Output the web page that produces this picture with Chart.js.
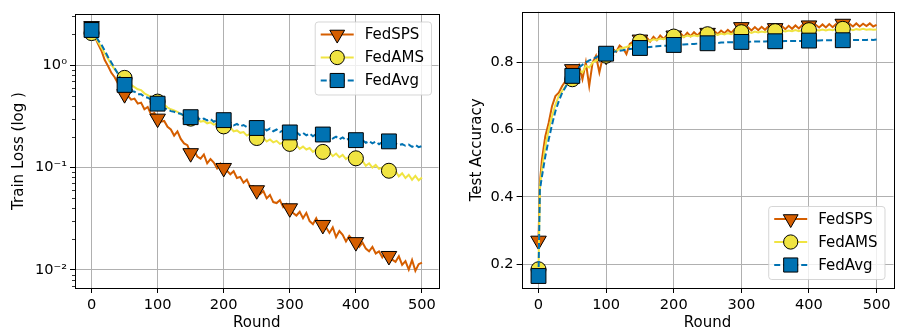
<!DOCTYPE html>
<html>
<head>
<meta charset="utf-8">
<script src="https://cdn.jsdelivr.net/npm/chart.js@4.4.1/dist/chart.umd.min.js"></script>
<style>
  body { margin: 0; background: #fff; width: 902px; height: 333px; overflow: hidden; position: relative; }
  #lossChart { position: absolute; left: 0; top: 0; }
  #accChart { position: absolute; left: 450px; top: 0; }
</style>
</head>
<body>
<canvas id="lossChart" width="450" height="333"></canvas>
<canvas id="accChart" width="455" height="333"></canvas>
<script>
const rounds = [0, 2, 5, 10, 15, 20, 25, 30, 35, 40, 45, 50, 55, 60, 65, 70, 75, 80, 85, 90, 95, 100,
  105, 110, 115, 120, 125, 130, 135, 140, 145, 150, 155, 160, 165, 170, 175, 180, 185, 190, 195, 200,
  205, 210, 215, 220, 225, 230, 235, 240, 245, 250, 255, 260, 265, 270, 275, 280, 285, 290, 295, 300,
  305, 310, 315, 320, 325, 330, 335, 340, 345, 350, 355, 360, 365, 370, 375, 380, 385, 390, 395, 400,
  405, 410, 415, 420, 425, 430, 435, 440, 445, 450, 455, 460, 465, 470, 475, 480, 485, 490, 495, 500];

// train loss
const spsLoss = [2.40, 2.10, 1.88, 1.60, 1.38, 1.12, 0.98, 0.84, 0.76, 0.66, 0.60, 0.52, 0.50, 0.46, 0.47, 0.42, 0.43, 0.37, 0.39, 0.33, 0.34, 0.30,
  0.28, 0.285, 0.25, 0.235, 0.205, 0.225, 0.19, 0.172, 0.165, 0.138, 0.148, 0.128, 0.122, 0.134, 0.11, 0.121, 0.112, 0.098, 0.109, 0.099,
  0.093, 0.086, 0.092, 0.079, 0.081, 0.071, 0.076, 0.065, 0.066, 0.060, 0.055, 0.059, 0.05, 0.054, 0.046, 0.045, 0.048, 0.041, 0.044, 0.040,
  0.036, 0.034, 0.037, 0.032, 0.036, 0.03, 0.028, 0.032, 0.027, 0.0275, 0.026, 0.023, 0.026, 0.021, 0.024, 0.022, 0.019, 0.0215, 0.0198, 0.0187,
  0.0168, 0.0185, 0.0162, 0.0152, 0.0168, 0.0145, 0.0152, 0.0133, 0.0148, 0.0137, 0.0126, 0.012, 0.0136, 0.0112, 0.0122, 0.0101, 0.0125, 0.0098, 0.0114, 0.0118];
const amsLoss = [2.05, 1.98, 1.88, 1.68, 1.48, 1.30, 1.15, 1.01, 0.91, 0.84, 0.79, 0.75, 0.69, 0.64, 0.61, 0.58, 0.57, 0.53, 0.51, 0.49, 0.47, 0.44,
  0.42, 0.41, 0.385, 0.37, 0.36, 0.35, 0.33, 0.325, 0.31, 0.30, 0.295, 0.3, 0.28, 0.285, 0.27, 0.276, 0.262, 0.268, 0.258, 0.252,
  0.24, 0.247, 0.225, 0.23, 0.218, 0.222, 0.205, 0.213, 0.2, 0.194, 0.19, 0.195, 0.18, 0.188, 0.176, 0.182, 0.17, 0.176, 0.165, 0.17,
  0.16, 0.166, 0.152, 0.16, 0.15, 0.155, 0.142, 0.15, 0.139, 0.142, 0.134, 0.141, 0.129, 0.137, 0.126, 0.133, 0.121, 0.128, 0.118, 0.123,
  0.11, 0.116, 0.104, 0.11, 0.1, 0.106, 0.097, 0.1, 0.092, 0.093, 0.087, 0.092, 0.082, 0.088, 0.079, 0.085, 0.076, 0.083, 0.075, 0.080];
const avgLoss = [2.20, 2.12, 2.02, 1.75, 1.58, 1.38, 1.20, 1.06, 0.93, 0.82, 0.72, 0.64, 0.60, 0.56, 0.55, 0.52, 0.52, 0.49, 0.48, 0.46, 0.44, 0.42,
  0.40, 0.38, 0.37, 0.355, 0.35, 0.34, 0.335, 0.32, 0.315, 0.31, 0.302, 0.31, 0.292, 0.3, 0.288, 0.297, 0.28, 0.292, 0.282, 0.29,
  0.27, 0.276, 0.258, 0.266, 0.252, 0.26, 0.248, 0.256, 0.242, 0.243, 0.237, 0.246, 0.23, 0.24, 0.226, 0.235, 0.222, 0.23, 0.219, 0.22,
  0.212, 0.222, 0.208, 0.218, 0.206, 0.215, 0.202, 0.212, 0.201, 0.21, 0.197, 0.206, 0.192, 0.2, 0.189, 0.197, 0.185, 0.193, 0.182, 0.185,
  0.177, 0.185, 0.174, 0.181, 0.172, 0.179, 0.169, 0.177, 0.167, 0.18, 0.169, 0.171, 0.166, 0.169, 0.163, 0.167, 0.159, 0.166, 0.158, 0.162];

// test accuracy
const spsAcc = [0.27, 0.44, 0.51, 0.58, 0.62, 0.67, 0.70, 0.71, 0.73, 0.745, 0.77, 0.78, 0.76, 0.79, 0.75, 0.80, 0.73, 0.80, 0.82, 0.77, 0.815, 0.82,
  0.835, 0.84, 0.832, 0.85, 0.842, 0.825, 0.855, 0.862, 0.848, 0.868, 0.858, 0.874, 0.862, 0.876, 0.866, 0.88, 0.87, 0.881, 0.872, 0.88,
  0.874, 0.887, 0.876, 0.888, 0.878, 0.89, 0.88, 0.891, 0.882, 0.888, 0.884, 0.894, 0.884, 0.895, 0.887, 0.897, 0.888, 0.899, 0.89, 0.905,
  0.893, 0.904, 0.895, 0.905, 0.896, 0.906, 0.897, 0.907, 0.898, 0.902, 0.898, 0.908, 0.899, 0.909, 0.9, 0.91, 0.901, 0.911, 0.902, 0.91,
  0.903, 0.912, 0.904, 0.913, 0.904, 0.914, 0.905, 0.914, 0.906, 0.915, 0.906, 0.915, 0.907, 0.916, 0.907, 0.915, 0.908, 0.916, 0.907, 0.912];
const amsAcc = [0.185, 0.43, 0.48, 0.55, 0.60, 0.64, 0.675, 0.70, 0.715, 0.73, 0.742, 0.75, 0.76, 0.775, 0.77, 0.79, 0.785, 0.80, 0.805, 0.81, 0.815, 0.82,
  0.825, 0.832, 0.835, 0.84, 0.843, 0.846, 0.85, 0.853, 0.856, 0.862, 0.86, 0.866, 0.864, 0.869, 0.867, 0.871, 0.869, 0.874, 0.872, 0.877,
  0.874, 0.878, 0.876, 0.88, 0.877, 0.881, 0.878, 0.882, 0.879, 0.884, 0.881, 0.885, 0.882, 0.886, 0.883, 0.887, 0.884, 0.888, 0.886, 0.89,
  0.887, 0.891, 0.888, 0.892, 0.889, 0.892, 0.89, 0.893, 0.891, 0.893, 0.891, 0.894, 0.892, 0.895, 0.893, 0.896, 0.893, 0.896, 0.894, 0.896,
  0.894, 0.897, 0.895, 0.898, 0.895, 0.898, 0.896, 0.899, 0.897, 0.9, 0.897, 0.899, 0.896, 0.899, 0.897, 0.9, 0.897, 0.899, 0.897, 0.898];
const avgAcc = [0.165, 0.42, 0.46, 0.52, 0.57, 0.615, 0.655, 0.685, 0.71, 0.727, 0.745, 0.76, 0.772, 0.785, 0.793, 0.80, 0.806, 0.81, 0.815, 0.82, 0.823, 0.826,
  0.828, 0.831, 0.833, 0.835, 0.836, 0.838, 0.84, 0.841, 0.842, 0.843, 0.844, 0.845, 0.846, 0.847, 0.848, 0.849, 0.85, 0.85, 0.851, 0.852,
  0.852, 0.853, 0.853, 0.854, 0.855, 0.855, 0.856, 0.856, 0.857, 0.857, 0.858, 0.858, 0.858, 0.859, 0.859, 0.86, 0.86, 0.86, 0.861, 0.861,
  0.861, 0.861, 0.862, 0.862, 0.862, 0.862, 0.862, 0.863, 0.863, 0.863, 0.863, 0.863, 0.864, 0.864, 0.864, 0.864, 0.864, 0.864, 0.865, 0.865,
  0.865, 0.865, 0.865, 0.866, 0.866, 0.866, 0.866, 0.866, 0.866, 0.866, 0.867, 0.867, 0.867, 0.867, 0.867, 0.867, 0.867, 0.868, 0.867, 0.868];

const roundTicks = [0, 100, 200, 300, 400, 500];
const lossTicks = [0.01, 0.1, 1];
const lossTickLabels = ['10⁻²', '10⁻¹', '10⁰'];
const accTicks = [0.2, 0.4, 0.6, 0.8];
const methods = ['FedSPS', 'FedAMS', 'FedAvg'];

const FONT = 'DejaVu Sans';
const colors = ['#D55E00', '#F0E442', '#0072B2'];
const shapes = ['triangle', 'circle', 'rect'];
const radii = [9, 7.5, 10.5];
const rotations = [180, 0, 0];
const dashes = [[], [], [6, 3]];

function makeDatasets(series) {
  return series.map((vals, i) => ({
    label: methods[i],
    data: rounds.map((r, j) => ({ x: r, y: vals[j] })),
    borderColor: colors[i],
    backgroundColor: colors[i],
    borderWidth: 2,
    borderDash: dashes[i],
    tension: 0,
    order: 2 - i,
    pointStyle: shapes[i],
    rotation: rotations[i],
    pointRadius: ctx => (ctx.raw && ctx.raw.x % 50 === 0 && ctx.raw.x <= 450) ? radii[i] : 0,
    pointBackgroundColor: colors[i],
    pointBorderColor: '#000',
    pointBorderWidth: 1,
  }));
}

// full axes box, minor log ticks, and a matplotlib-like legend
const framePlugin = {
  id: 'frame',
  afterDatasetsDraw(chart) {
    const { ctx, chartArea: a } = chart;
    ctx.save();
    ctx.strokeStyle = '#000';
    ctx.lineWidth = 1;
    ctx.strokeRect(Math.round(a.left) + 0.5, Math.round(a.top) + 0.5,
      Math.round(a.right) - Math.round(a.left), Math.round(a.bottom) - Math.round(a.top));
    const y = chart.scales.y;
    if (y.type === 'logarithmic') {
      ctx.lineWidth = 0.8;
      for (let k = -3; k <= 0; k++) {
        for (let m = 2; m <= 9; m++) {
          const v = m * Math.pow(10, k);
          if (v < y.min || v > y.max) continue;
          const py = Math.round(y.getPixelForValue(v)) + 0.5;
          ctx.beginPath();
          ctx.moveTo(a.left - 3, py);
          ctx.lineTo(a.left, py);
          ctx.stroke();
        }
      }
    }
    ctx.restore();
  },
  afterDraw(chart, args, opts) {
    const { ctx, chartArea: a } = chart;
    const sets = chart.data.datasets;
    ctx.save();
    ctx.font = '15px "' + FONT + '"';
    const textW = Math.max(...sets.map(d => ctx.measureText(d.label).width));
    const w = 50 + textW + 7;
    const h = 73;
    const x0 = a.right - opts.inset - w;
    const y0 = opts.corner === 'top' ? a.top + opts.inset : a.bottom - opts.inset - h;
    ctx.beginPath();
    ctx.roundRect(x0 + 0.5, y0 + 0.5, w, h, 3);
    ctx.fillStyle = 'rgba(255,255,255,0.8)';
    ctx.fill();
    ctx.strokeStyle = 'rgba(204,204,204,0.8)';
    ctx.lineWidth = 1;
    ctx.stroke();
    sets.forEach((d, i) => {
      const cy = y0 + 13 + i * 23;
      ctx.beginPath();
      ctx.setLineDash(d.borderDash);
      ctx.strokeStyle = d.borderColor;
      ctx.lineWidth = 2;
      ctx.moveTo(x0 + 6, cy);
      ctx.lineTo(x0 + 39, cy);
      ctx.stroke();
      ctx.setLineDash([]);
      ctx.fillStyle = d.borderColor;
      ctx.strokeStyle = '#000';
      ctx.lineWidth = 1;
      Chart.helpers.drawPoint(ctx, {
        pointStyle: d.pointStyle, radius: radii[i] * 0.95, rotation: d.rotation, borderWidth: 1
      }, x0 + 22.5, cy);
      ctx.fillStyle = '#000';
      ctx.textBaseline = 'middle';
      ctx.textAlign = 'left';
      ctx.fillText(d.label, x0 + 50, cy + 1);
    });
    ctx.restore();
  }
};

const tickFont = { family: FONT, size: 14.6 };
const titleFont = { family: FONT, size: 15 };

function xScale() {
  return {
    type: 'linear', min: -25, max: 525,
    afterBuildTicks: s => { s.ticks = roundTicks.map(v => ({ value: v })); },
    afterFit: s => { s.height = 45; },
    ticks: { color: '#000', font: tickFont, padding: 3, maxRotation: 0, autoSkip: false },
    grid: { color: '#b0b0b0', lineWidth: 1, tickLength: 5, tickColor: '#000', tickWidth: 1 },
    border: { display: false },
    title: { display: true, text: 'Round', color: '#000', font: titleFont, padding: { top: 0, bottom: 1 } }
  };
}

new Chart(document.getElementById('lossChart'), {
  type: 'line',
  data: { datasets: makeDatasets([spsLoss, amsLoss, avgLoss]) },
  plugins: [framePlugin],
  options: {
    responsive: false,
    animation: false,
    layout: { padding: { top: 14, right: 5, left: 0, bottom: 0 } },
    plugins: { legend: { display: false }, tooltip: { enabled: false }, frame: { corner: 'top', inset: 7.5 } },
    scales: {
      x: xScale(),
      y: {
        type: 'logarithmic', min: 0.00667, max: 3.15,
        afterBuildTicks: s => { s.ticks = lossTicks.map(v => ({ value: v })); },
        afterFit: s => { s.width = 75; },
        ticks: { color: '#000', font: tickFont, padding: 3,
          callback: v => lossTickLabels[lossTicks.indexOf(v)] ?? '' },
        grid: { color: '#b0b0b0', lineWidth: 1, tickLength: 5, tickColor: '#000', tickWidth: 1 },
        border: { display: false },
        title: { display: true, text: 'Train Loss (log )', color: '#000', font: titleFont, padding: { top: 10, bottom: 0 } }
      }
    }
  }
});

new Chart(document.getElementById('accChart'), {
  type: 'line',
  data: { datasets: makeDatasets([spsAcc, amsAcc, avgAcc]) },
  plugins: [framePlugin],
  options: {
    responsive: false,
    animation: false,
    layout: { padding: { top: 3, right: 1.6, left: 0, bottom: 0 } },
    plugins: { legend: { display: false }, tooltip: { enabled: false }, frame: { corner: 'bottom', inset: 9 } },
    scales: {
      x: xScale(),
      y: {
        type: 'linear', min: 0.1293, max: 0.9507,
        afterBuildTicks: s => { s.ticks = accTicks.map(v => ({ value: v })); },
        afterFit: s => { s.width = 71.6; },
        ticks: { color: '#000', font: tickFont, padding: 3, callback: v => v.toFixed(1) },
        grid: { color: '#b0b0b0', lineWidth: 1, tickLength: 5, tickColor: '#000', tickWidth: 1 },
        border: { display: false },
        title: { display: true, text: 'Test Accuracy', color: '#000', font: titleFont, padding: { top: 18, bottom: 0 } }
      }
    }
  }
});
</script>
</body>
</html>
